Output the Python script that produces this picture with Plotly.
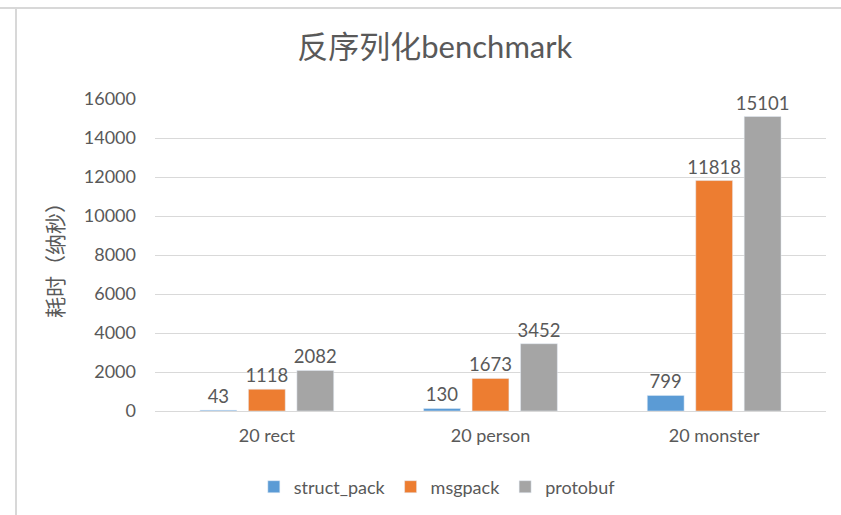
import plotly.graph_objects as go

categories = ["20 rect", "20 person", "20 monster"]
struct_pack = [43, 130, 799]
msgpack = [1118, 1673, 11818]
protobuf = [2082, 3452, 15101]
y_ticks = [0, 2000, 4000, 6000, 8000, 10000, 12000, 14000, 16000]

FONT = "Lato, 'Noto Sans CJK SC', sans-serif"
TXT = "#595959"

fig = go.Figure()
for name, vals, color in [("struct_pack", struct_pack, "#5B9BD5"),
                          ("msgpack", msgpack, "#ED7D31"),
                          ("protobuf", protobuf, "#A5A5A5")]:
    fig.add_trace(go.Bar(
        x=categories, y=vals, name=name, marker_color=color,
        text=[str(v) for v in vals], textposition="outside", constraintext="none",
        textfont=dict(size=18.5, color=TXT, family=FONT), cliponaxis=False,
    ))

fig.update_layout(
    width=841, height=515,
    paper_bgcolor="white", plot_bgcolor="white",
    margin=dict(l=155, r=15, t=99, b=104),
    barmode="group", bargap=0.35, bargroupgap=0.24,
    font=dict(family=FONT, color=TXT),
    uniformtext=dict(mode=False),
    title=dict(text="反序列化benchmark", x=0.517, xanchor="center",
               y=1 - 47 / 515, yref="container", yanchor="middle",
               font=dict(size=31, color=TXT, family=FONT)),
    legend=dict(orientation="h", xref="container", x=0.52, xanchor="center",
                yref="container", y=1 - 487 / 515, yanchor="middle",
                font=dict(size=18, color=TXT, family=FONT),
                itemwidth=30, traceorder="normal"),
    showlegend=True,
)
fig.update_layout(title_xref="container")
fig.update_yaxes(range=[0, 16000], tickvals=y_ticks, ticktext=[str(v) for v in y_ticks],
                 showgrid=True, gridcolor="#D9D9D9",
                 gridwidth=1, zeroline=False, showline=False, ticks="",
                 tickfont=dict(size=18, color=TXT), ticklabelstandoff=18,
                 title=dict(text="耗时（纳秒）", font=dict(size=21, color=TXT), standoff=14))
fig.update_xaxes(showline=True, linecolor="#D9D9D9", ticks="",
                 tickfont=dict(size=18, color=TXT), ticklabelstandoff=8)

# chart frame border (partially visible, as in screenshot)
fig.add_shape(type="line", xref="paper", yref="paper", x0=-155/671, x1=(841-155)/671 + 0.1,
              y0=1 + 91/312, y1=1 + 91/312, line=dict(color="#D8D8D8", width=2))
fig.add_shape(type="line", xref="paper", yref="paper", x0=-139/671, x1=-139/671,
              y0=1 + 91/312, y1=-104/312 - 0.1, line=dict(color="#D8D8D8", width=2))

fig.write_html("out.html")
